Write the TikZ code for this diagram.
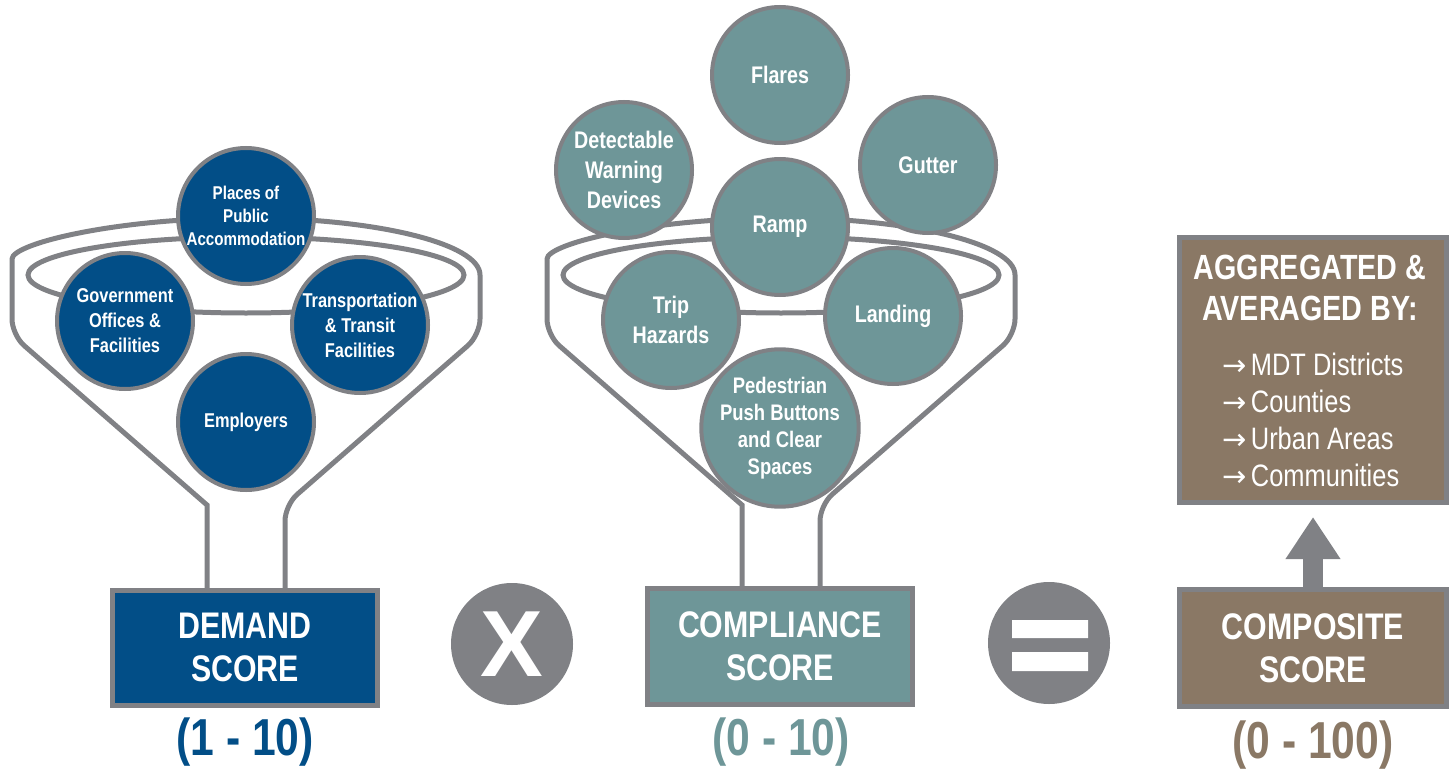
\documentclass[tikz,border=0pt]{standalone}
\usepackage{fontspec}
\setmainfont{Liberation Sans}[FakeStretch=0.82]
\newfontfamily\widefont{Liberation Sans}
\newfontfamily\arrowfont{DejaVu Sans}
\usetikzlibrary{arrows.meta}

\definecolor{demandblue}{RGB}{2,78,135}
\definecolor{complteal}{RGB}{110,150,152}
\definecolor{compbrown}{RGB}{138,120,101}
\definecolor{rimgray}{RGB}{128,129,133}

\newcommand{\listarrow}{{\arrowfont\fontsize{29}{37}\selectfont →}\hspace{4pt}}

\begin{document}
\begin{tikzpicture}[x=1pt,y=-1pt]
			\tikzstyle{funnel}=[draw=rimgray,line width=5pt]
			\tikzstyle{ball}=[circle,draw=rimgray,line width=4pt,minimum size=136pt,inner sep=0pt,text=white,align=center]
			\tikzstyle{demand ball}=[ball,fill=demandblue,font=\bfseries\fontsize{20}{25}\selectfont]
			\tikzstyle{compl ball}=[ball,fill=complteal,font=\bfseries\fontsize{24}{30}\selectfont]
			\tikzstyle{score box}=[draw=rimgray,line width=5pt,minimum width=265pt,minimum height=115pt,text=white,align=center,font=\bfseries\fontsize{37}{43}\selectfont]
			\tikzstyle{score range}=[font=\bfseries\fontsize{52}{52}\selectfont]
			\tikzstyle{op}=[circle,fill=rimgray,minimum size=122pt,inner sep=0pt,text=white,font=\widefont\bfseries\fontsize{94}{94}\selectfont]
			
			\useasboundingbox (0,0) rectangle (1455,773);
			
			% the two funnels
			\foreach \cx in {246,781} {
				\draw[funnel] (\cx-39,590) -- (\cx-39,505) [rounded corners=16pt] -- (\cx-234,335) -- (\cx-234,275) [sharp corners] arc[start angle=180,end angle=360,x radius=234,y radius=57] [rounded corners=16pt] -- (\cx+234,335) -- (\cx+39,505) [sharp corners] -- (\cx+39,590);
				\draw[funnel] (\cx,275) ellipse[x radius=218,y radius=38];
			}
			
			\node[demand ball,font=\bfseries\fontsize{18.5}{23}\selectfont] (places) at (246,216) {Places of\\Public\\Accommodation};
			\node[demand ball] (government) at (125,321) {Government\\Offices \&\\Facilities};
			\node[demand ball] (transit) at (360,325) {Transportation\\\& Transit\\Facilities};
			\node[demand ball] (employers) at (246,422) {Employers};
			
			\node[compl ball] (flares) at (780,75) {Flares};
			\node[compl ball] (detectable) at (624,170) {Detectable\\Warning\\Devices};
			\node[compl ball] (gutter) at (928,165) {Gutter};
			\node[compl ball] (ramp) at (780,227) {Ramp};
			\node[compl ball] (trip) at (671,320) {Trip\\Hazards};
			\node[compl ball] (landing) at (893,316) {Landing};
			\node[compl ball,font=\bfseries\fontsize{22.5}{27}\selectfont] (pedestrian) at (780,428) {Pedestrian\\Push Buttons\\and Clear\\Spaces};
			
			\node[score box,fill=demandblue] (demand) at (245,647.5) {DEMAND\\SCORE};
			\node[score box,fill=complteal,minimum height=116pt] (compliance) at (780,646.5) {COMPLIANCE\\SCORE};
			\node[score box,fill=compbrown,minimum width=267pt,minimum height=117pt] (composite) at (1313,648) {COMPOSITE\\SCORE};
			\node[score box,fill=compbrown,minimum width=267pt,minimum height=265pt] (agg) at (1313,370) {};
			\node[text=white,align=center,font=\bfseries\fontsize{35}{41}\selectfont] (aggtitle) at (1310,288) {AGGREGATED \&\\AVERAGED BY:};
			\node[text=white,align=left,font=\fontsize{31}{37}\selectfont] (agglist) at (1313,420) {\listarrow MDT Districts\\\listarrow Counties\\\listarrow Urban Areas\\\listarrow Communities};
			
			\node[score range,text=demandblue] (demandrange) at (245,742) {(1 - 10)};
			\node[score range,text=complteal] (compliancerange) at (781,742) {(0 - 10)};
			\node[score range,text=compbrown] (compositerange) at (1313,745) {(0 - 100)};
			
			\node[op] (times) at (512,644) {X};
			\node[op] (equals) at (1049,643) {};
			\fill[white] (1012,620) rectangle (1088,638) (1012,652) rectangle (1088,671);
			
			\draw[rimgray,line width=20pt,-{Triangle[width=52pt,length=42pt]},shorten >=12pt] (composite) -- (agg);
		\end{tikzpicture}
\end{document}
